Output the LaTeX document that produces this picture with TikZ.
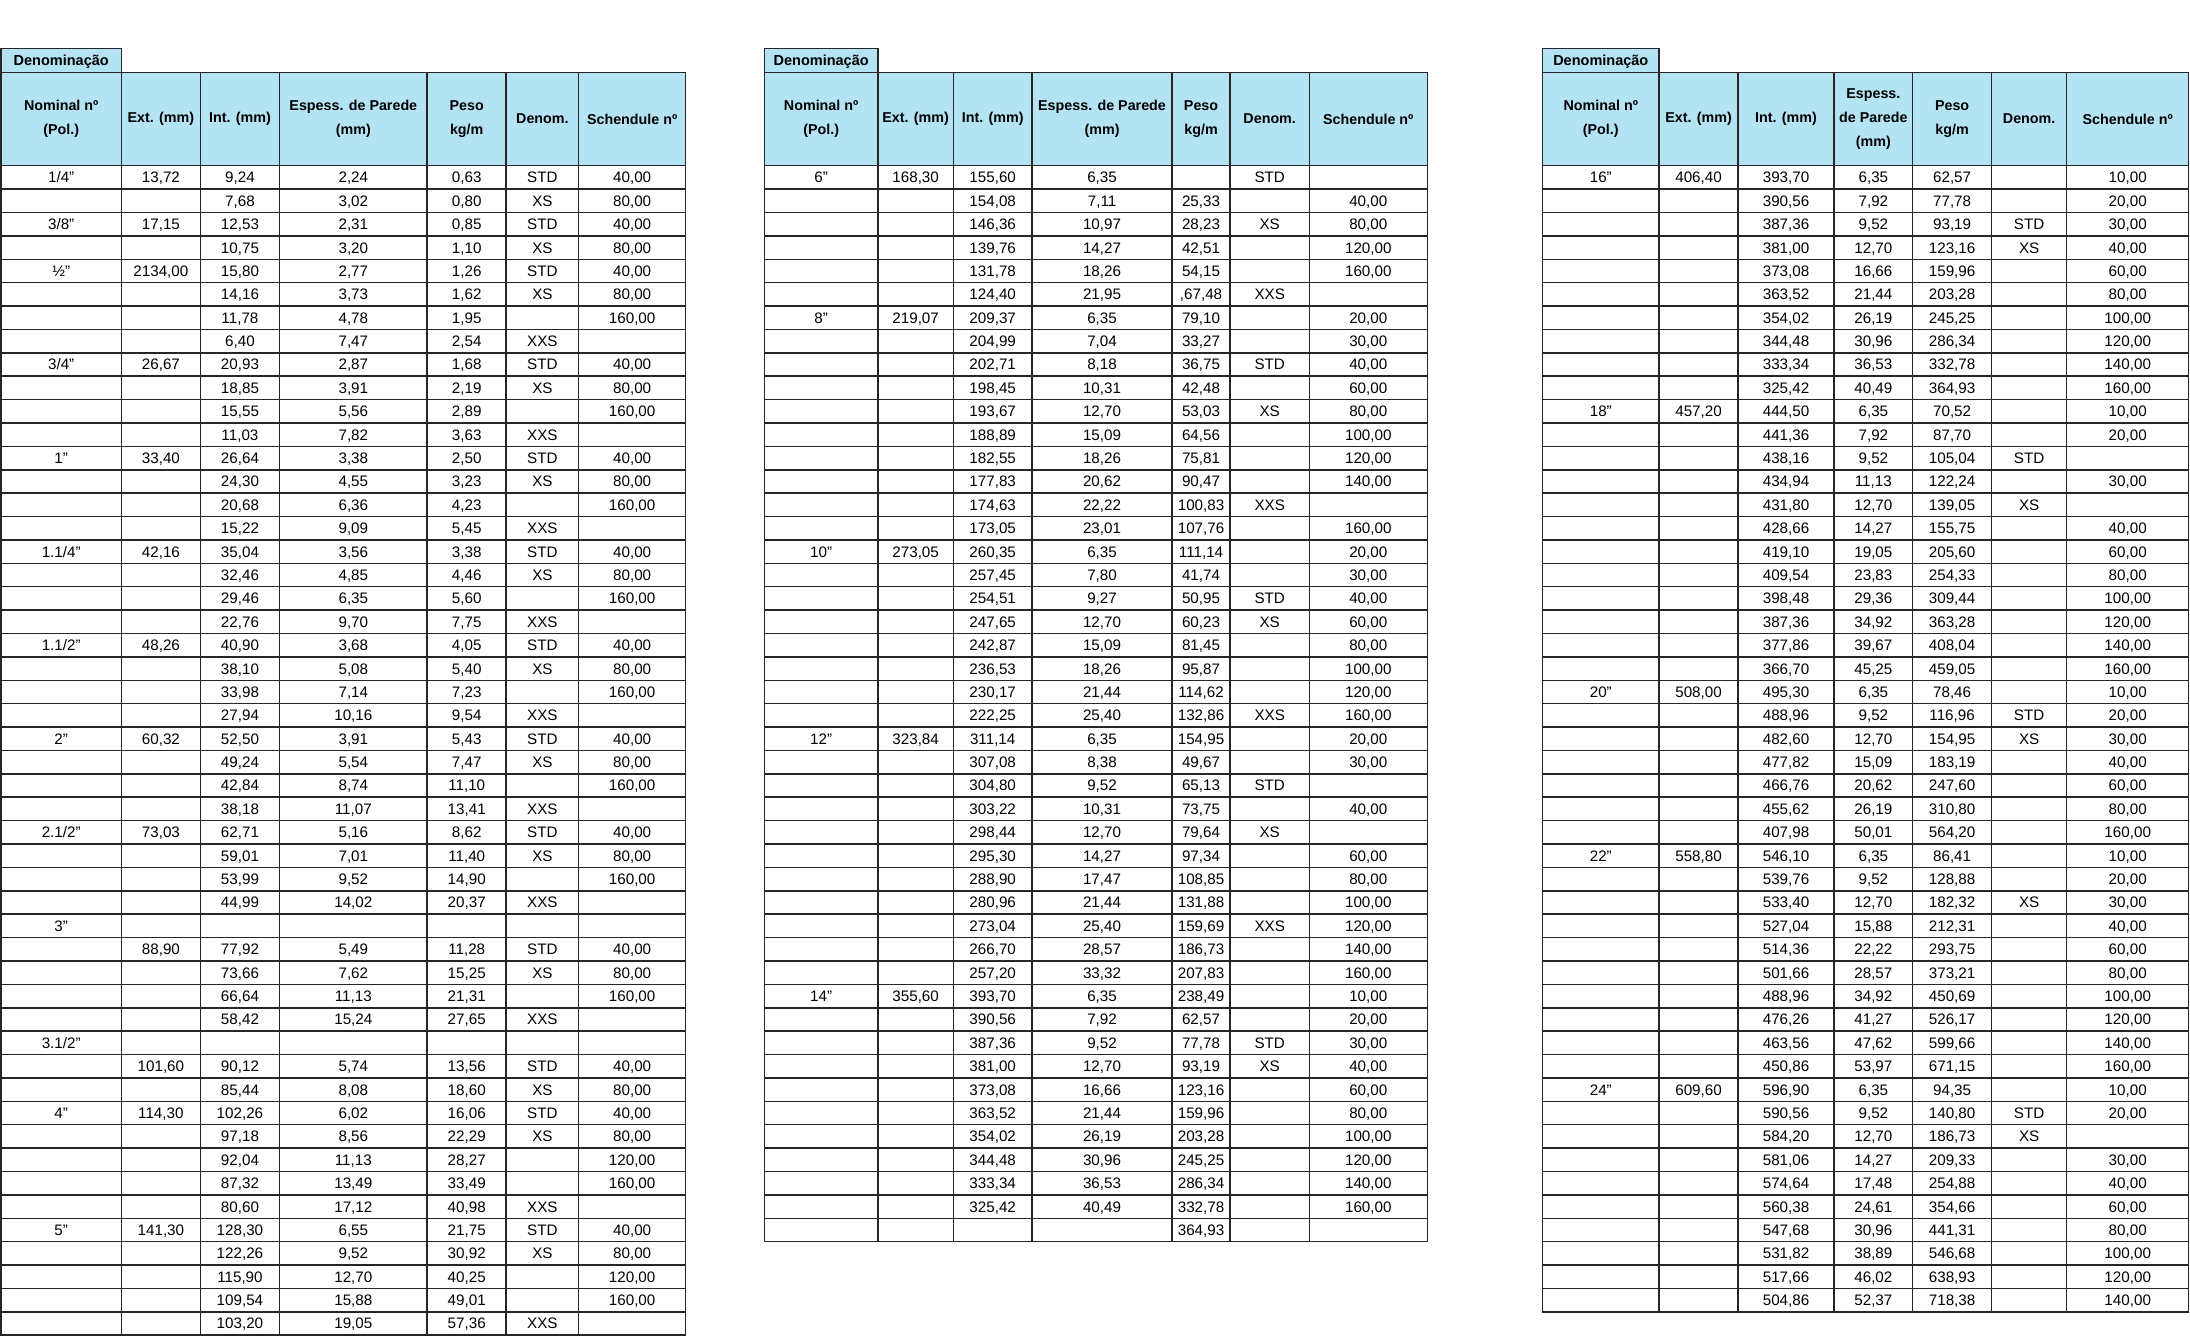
\documentclass[tikz,border=0pt]{standalone}
\usepackage{fontspec}
\setmainfont{Liberation Sans}
\definecolor{hdrblue}{RGB}{180,228,244}
\definecolor{gridclr}{RGB}{38,38,38}
\newcount\rowi
\newcommand\tblpanel[9]{%
  \def\pn{#1}\rowi=0
  \def\xA{#2}\def\xB{#3}\def\xC{#4}\def\xD{#5}%
  \def\xE{#6}\def\xF{#7}\def\xG{#8}\def\xH{#9}}
\newcommand\tcell[6]{% style, left, right, ycenter, name, text
  \pgfmathsetmacro\tcw{#3-#2}\pgfmathsetmacro\tcx{(#2+#3)/2}%
  \node[#1, minimum width=\tcw pt] (#5) at (\tcx,#4) {#6};}
\newcommand\hdrow[7]{%
  \tcell{denbox}{\xA}{\xB}{60.3}{\pn-den}{Denominação}%
  \tcell{hcell}{\xA}{\xB}{119}{\pn-h1}{#1}%
  \tcell{hcell}{\xB}{\xC}{119}{\pn-h2}{#2}%
  \tcell{hcell}{\xC}{\xD}{119}{\pn-h3}{#3}%
  \tcell{hcell}{\xD}{\xE}{119}{\pn-h4}{#4}%
  \tcell{hcell}{\xE}{\xF}{119}{\pn-h5}{#5}%
  \tcell{hcell}{\xF}{\xG}{119}{\pn-h6}{#6}%
  \tcell{hcell}{\xG}{\xH}{119}{\pn-h7}{#7}}
\newcommand\tabrow[7]{%
  \pgfmathsetmacro\tyc{165.7+23.39*\rowi+11.695}%
  \advance\rowi by 1
  \tcell{cell}{\xA}{\xB}{\tyc}{\pn-\the\rowi-1}{#1}%
  \tcell{cell}{\xB}{\xC}{\tyc}{\pn-\the\rowi-2}{#2}%
  \tcell{cell}{\xC}{\xD}{\tyc}{\pn-\the\rowi-3}{#3}%
  \tcell{cell}{\xD}{\xE}{\tyc}{\pn-\the\rowi-4}{#4}%
  \tcell{cell}{\xE}{\xF}{\tyc}{\pn-\the\rowi-5}{#5}%
  \tcell{cell}{\xF}{\xG}{\tyc}{\pn-\the\rowi-6}{#6}%
  \tcell{cell}{\xG}{\xH}{\tyc}{\pn-\the\rowi-7}{#7}}
\tikzset{
  cell/.style={draw=gridclr, line width=1.5pt, minimum height=23.39pt,
    inner sep=0pt, outer sep=0pt, text height=10.9pt, text depth=0pt,
    font=\fontsize{15.2}{18}\selectfont},
  hcell/.style={draw=gridclr, line width=1.5pt, fill=hdrblue, minimum height=93.4pt,
    inner sep=0pt, outer sep=0pt, align=center,
    font=\fontsize{14.3}{24}\selectfont\bfseries},
  denbox/.style={draw=gridclr, line width=1.5pt, fill=hdrblue, minimum height=24pt,
    inner sep=0pt, outer sep=0pt, text height=10.4pt, text depth=0pt,
    font=\fontsize{14.5}{18}\selectfont\bfseries}
}
\begin{document}
\begin{tikzpicture}[x=1pt,y=-1pt]
\fill[white] (0,0) rectangle (2190,1338);
\useasboundingbox (0,0) rectangle (2190,1338);
% ---------------- Panel A ----------------
\tblpanel{A}{1}{121.4}{200.4}{279.5}{427.2}{506.2}{578.6}{685.7}
\hdrow{Nominal nº\\(Pol.)}{Ext. (mm)}{Int. (mm)}{Espess. de Parede\\(mm)}{Peso\\kg/m}{Denom.}{Schendule nº}
\tabrow{1/4”}{13,72}{9,24}{2,24}{0,63}{STD}{40,00}
\tabrow{}{}{7,68}{3,02}{0,80}{XS}{80,00}
\tabrow{3/8”}{17,15}{12,53}{2,31}{0,85}{STD}{40,00}
\tabrow{}{}{10,75}{3,20}{1,10}{XS}{80,00}
\tabrow{½”}{2134,00}{15,80}{2,77}{1,26}{STD}{40,00}
\tabrow{}{}{14,16}{3,73}{1,62}{XS}{80,00}
\tabrow{}{}{11,78}{4,78}{1,95}{}{160,00}
\tabrow{}{}{6,40}{7,47}{2,54}{XXS}{}
\tabrow{3/4”}{26,67}{20,93}{2,87}{1,68}{STD}{40,00}
\tabrow{}{}{18,85}{3,91}{2,19}{XS}{80,00}
\tabrow{}{}{15,55}{5,56}{2,89}{}{160,00}
\tabrow{}{}{11,03}{7,82}{3,63}{XXS}{}
\tabrow{1”}{33,40}{26,64}{3,38}{2,50}{STD}{40,00}
\tabrow{}{}{24,30}{4,55}{3,23}{XS}{80,00}
\tabrow{}{}{20,68}{6,36}{4,23}{}{160,00}
\tabrow{}{}{15,22}{9,09}{5,45}{XXS}{}
\tabrow{1.1/4”}{42,16}{35,04}{3,56}{3,38}{STD}{40,00}
\tabrow{}{}{32,46}{4,85}{4,46}{XS}{80,00}
\tabrow{}{}{29,46}{6,35}{5,60}{}{160,00}
\tabrow{}{}{22,76}{9,70}{7,75}{XXS}{}
\tabrow{1.1/2”}{48,26}{40,90}{3,68}{4,05}{STD}{40,00}
\tabrow{}{}{38,10}{5,08}{5,40}{XS}{80,00}
\tabrow{}{}{33,98}{7,14}{7,23}{}{160,00}
\tabrow{}{}{27,94}{10,16}{9,54}{XXS}{}
\tabrow{2”}{60,32}{52,50}{3,91}{5,43}{STD}{40,00}
\tabrow{}{}{49,24}{5,54}{7,47}{XS}{80,00}
\tabrow{}{}{42,84}{8,74}{11,10}{}{160,00}
\tabrow{}{}{38,18}{11,07}{13,41}{XXS}{}
\tabrow{2.1/2”}{73,03}{62,71}{5,16}{8,62}{STD}{40,00}
\tabrow{}{}{59,01}{7,01}{11,40}{XS}{80,00}
\tabrow{}{}{53,99}{9,52}{14,90}{}{160,00}
\tabrow{}{}{44,99}{14,02}{20,37}{XXS}{}
\tabrow{3”}{}{}{}{}{}{}
\tabrow{}{88,90}{77,92}{5,49}{11,28}{STD}{40,00}
\tabrow{}{}{73,66}{7,62}{15,25}{XS}{80,00}
\tabrow{}{}{66,64}{11,13}{21,31}{}{160,00}
\tabrow{}{}{58,42}{15,24}{27,65}{XXS}{}
\tabrow{3.1/2”}{}{}{}{}{}{}
\tabrow{}{101,60}{90,12}{5,74}{13,56}{STD}{40,00}
\tabrow{}{}{85,44}{8,08}{18,60}{XS}{80,00}
\tabrow{4”}{114,30}{102,26}{6,02}{16,06}{STD}{40,00}
\tabrow{}{}{97,18}{8,56}{22,29}{XS}{80,00}
\tabrow{}{}{92,04}{11,13}{28,27}{}{120,00}
\tabrow{}{}{87,32}{13,49}{33,49}{}{160,00}
\tabrow{}{}{80,60}{17,12}{40,98}{XXS}{}
\tabrow{5”}{141,30}{128,30}{6,55}{21,75}{STD}{40,00}
\tabrow{}{}{122,26}{9,52}{30,92}{XS}{80,00}
\tabrow{}{}{115,90}{12,70}{40,25}{}{120,00}
\tabrow{}{}{109,54}{15,88}{49,01}{}{160,00}
\tabrow{}{}{103,20}{19,05}{57,36}{XXS}{}
% ---------------- Panel B ----------------
\tblpanel{B}{764.3}{878.0}{953.3}{1032.1}{1172.0}{1230.1}{1309.3}{1427.3}
\hdrow{Nominal nº\\(Pol.)}{Ext. (mm)}{Int. (mm)}{Espess. de Parede\\(mm)}{Peso\\kg/m}{Denom.}{Schendule nº}
\tabrow{6”}{168,30}{155,60}{6,35}{}{STD}{}
\tabrow{}{}{154,08}{7,11}{25,33}{}{40,00}
\tabrow{}{}{146,36}{10,97}{28,23}{XS}{80,00}
\tabrow{}{}{139,76}{14,27}{42,51}{}{120,00}
\tabrow{}{}{131,78}{18,26}{54,15}{}{160,00}
\tabrow{}{}{124,40}{21,95}{,67,48}{XXS}{}
\tabrow{8”}{219,07}{209,37}{6,35}{79,10}{}{20,00}
\tabrow{}{}{204,99}{7,04}{33,27}{}{30,00}
\tabrow{}{}{202,71}{8,18}{36,75}{STD}{40,00}
\tabrow{}{}{198,45}{10,31}{42,48}{}{60,00}
\tabrow{}{}{193,67}{12,70}{53,03}{XS}{80,00}
\tabrow{}{}{188,89}{15,09}{64,56}{}{100,00}
\tabrow{}{}{182,55}{18,26}{75,81}{}{120,00}
\tabrow{}{}{177,83}{20,62}{90,47}{}{140,00}
\tabrow{}{}{174,63}{22,22}{100,83}{XXS}{}
\tabrow{}{}{173,05}{23,01}{107,76}{}{160,00}
\tabrow{10”}{273,05}{260,35}{6,35}{111,14}{}{20,00}
\tabrow{}{}{257,45}{7,80}{41,74}{}{30,00}
\tabrow{}{}{254,51}{9,27}{50,95}{STD}{40,00}
\tabrow{}{}{247,65}{12,70}{60,23}{XS}{60,00}
\tabrow{}{}{242,87}{15,09}{81,45}{}{80,00}
\tabrow{}{}{236,53}{18,26}{95,87}{}{100,00}
\tabrow{}{}{230,17}{21,44}{114,62}{}{120,00}
\tabrow{}{}{222,25}{25,40}{132,86}{XXS}{160,00}
\tabrow{12”}{323,84}{311,14}{6,35}{154,95}{}{20,00}
\tabrow{}{}{307,08}{8,38}{49,67}{}{30,00}
\tabrow{}{}{304,80}{9,52}{65,13}{STD}{}
\tabrow{}{}{303,22}{10,31}{73,75}{}{40,00}
\tabrow{}{}{298,44}{12,70}{79,64}{XS}{}
\tabrow{}{}{295,30}{14,27}{97,34}{}{60,00}
\tabrow{}{}{288,90}{17,47}{108,85}{}{80,00}
\tabrow{}{}{280,96}{21,44}{131,88}{}{100,00}
\tabrow{}{}{273,04}{25,40}{159,69}{XXS}{120,00}
\tabrow{}{}{266,70}{28,57}{186,73}{}{140,00}
\tabrow{}{}{257,20}{33,32}{207,83}{}{160,00}
\tabrow{14”}{355,60}{393,70}{6,35}{238,49}{}{10,00}
\tabrow{}{}{390,56}{7,92}{62,57}{}{20,00}
\tabrow{}{}{387,36}{9,52}{77,78}{STD}{30,00}
\tabrow{}{}{381,00}{12,70}{93,19}{XS}{40,00}
\tabrow{}{}{373,08}{16,66}{123,16}{}{60,00}
\tabrow{}{}{363,52}{21,44}{159,96}{}{80,00}
\tabrow{}{}{354,02}{26,19}{203,28}{}{100,00}
\tabrow{}{}{344,48}{30,96}{245,25}{}{120,00}
\tabrow{}{}{333,34}{36,53}{286,34}{}{140,00}
\tabrow{}{}{325,42}{40,49}{332,78}{}{160,00}
\tabrow{}{}{}{}{364,93}{}{}
% ---------------- Panel C ----------------
\tblpanel{C}{1542.5}{1659.1}{1738.0}{1834.1}{1912.6}{1991.6}{2066.7}{2188.7}
\hdrow{Nominal nº\\(Pol.)}{Ext. (mm)}{Int. (mm)}{Espess.\\de Parede\\(mm)}{Peso\\kg/m}{Denom.}{Schendule nº}
\tabrow{16”}{406,40}{393,70}{6,35}{62,57}{}{10,00}
\tabrow{}{}{390,56}{7,92}{77,78}{}{20,00}
\tabrow{}{}{387,36}{9,52}{93,19}{STD}{30,00}
\tabrow{}{}{381,00}{12,70}{123,16}{XS}{40,00}
\tabrow{}{}{373,08}{16,66}{159,96}{}{60,00}
\tabrow{}{}{363,52}{21,44}{203,28}{}{80,00}
\tabrow{}{}{354,02}{26,19}{245,25}{}{100,00}
\tabrow{}{}{344,48}{30,96}{286,34}{}{120,00}
\tabrow{}{}{333,34}{36,53}{332,78}{}{140,00}
\tabrow{}{}{325,42}{40,49}{364,93}{}{160,00}
\tabrow{18”}{457,20}{444,50}{6,35}{70,52}{}{10,00}
\tabrow{}{}{441,36}{7,92}{87,70}{}{20,00}
\tabrow{}{}{438,16}{9,52}{105,04}{STD}{}
\tabrow{}{}{434,94}{11,13}{122,24}{}{30,00}
\tabrow{}{}{431,80}{12,70}{139,05}{XS}{}
\tabrow{}{}{428,66}{14,27}{155,75}{}{40,00}
\tabrow{}{}{419,10}{19,05}{205,60}{}{60,00}
\tabrow{}{}{409,54}{23,83}{254,33}{}{80,00}
\tabrow{}{}{398,48}{29,36}{309,44}{}{100,00}
\tabrow{}{}{387,36}{34,92}{363,28}{}{120,00}
\tabrow{}{}{377,86}{39,67}{408,04}{}{140,00}
\tabrow{}{}{366,70}{45,25}{459,05}{}{160,00}
\tabrow{20”}{508,00}{495,30}{6,35}{78,46}{}{10,00}
\tabrow{}{}{488,96}{9,52}{116,96}{STD}{20,00}
\tabrow{}{}{482,60}{12,70}{154,95}{XS}{30,00}
\tabrow{}{}{477,82}{15,09}{183,19}{}{40,00}
\tabrow{}{}{466,76}{20,62}{247,60}{}{60,00}
\tabrow{}{}{455,62}{26,19}{310,80}{}{80,00}
\tabrow{}{}{407,98}{50,01}{564,20}{}{160,00}
\tabrow{22”}{558,80}{546,10}{6,35}{86,41}{}{10,00}
\tabrow{}{}{539,76}{9,52}{128,88}{}{20,00}
\tabrow{}{}{533,40}{12,70}{182,32}{XS}{30,00}
\tabrow{}{}{527,04}{15,88}{212,31}{}{40,00}
\tabrow{}{}{514,36}{22,22}{293,75}{}{60,00}
\tabrow{}{}{501,66}{28,57}{373,21}{}{80,00}
\tabrow{}{}{488,96}{34,92}{450,69}{}{100,00}
\tabrow{}{}{476,26}{41,27}{526,17}{}{120,00}
\tabrow{}{}{463,56}{47,62}{599,66}{}{140,00}
\tabrow{}{}{450,86}{53,97}{671,15}{}{160,00}
\tabrow{24”}{609,60}{596,90}{6,35}{94,35}{}{10,00}
\tabrow{}{}{590,56}{9,52}{140,80}{STD}{20,00}
\tabrow{}{}{584,20}{12,70}{186,73}{XS}{}
\tabrow{}{}{581,06}{14,27}{209,33}{}{30,00}
\tabrow{}{}{574,64}{17,48}{254,88}{}{40,00}
\tabrow{}{}{560,38}{24,61}{354,66}{}{60,00}
\tabrow{}{}{547,68}{30,96}{441,31}{}{80,00}
\tabrow{}{}{531,82}{38,89}{546,68}{}{100,00}
\tabrow{}{}{517,66}{46,02}{638,93}{}{120,00}
\tabrow{}{}{504,86}{52,37}{718,38}{}{140,00}
\end{tikzpicture}
\end{document}
